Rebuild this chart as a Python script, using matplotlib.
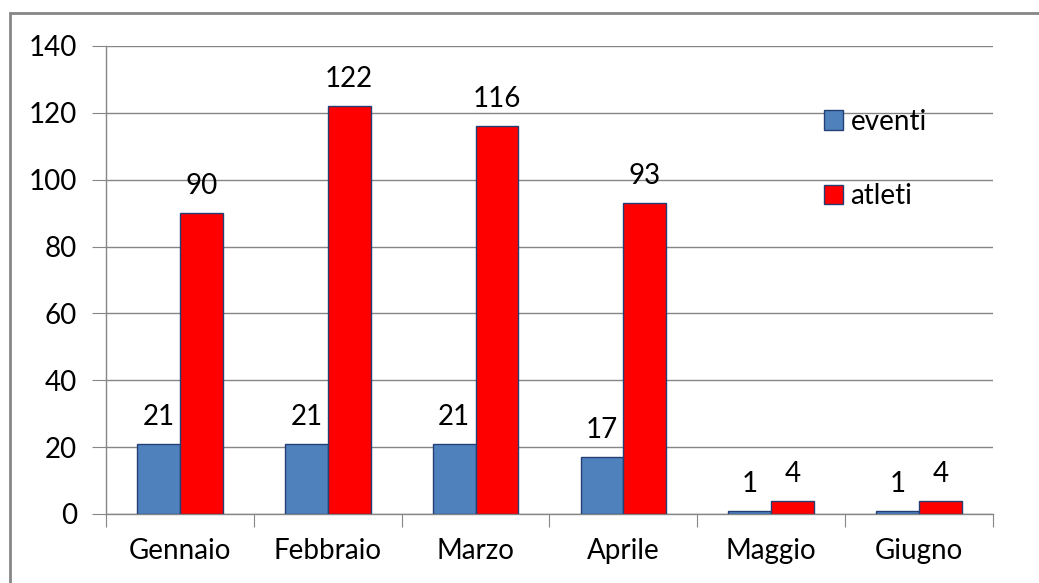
import matplotlib.pyplot as plt
import numpy as np
from matplotlib.patches import Rectangle

plt.rcParams['font.family'] = ['Lato', 'DejaVu Sans']

# Data
mesi = ["Gennaio", "Febbraio", "Marzo", "Aprile", "Maggio", "Giugno"]
eventi = [21, 21, 21, 17, 1, 1]
atleti = [90, 122, 116, 93, 4, 4]

FS = 20

fig = plt.figure(figsize=(10.39, 5.83), dpi=100)
ax = fig.add_axes([106 / 1039, 1 - 514 / 583, 887 / 1039, 468 / 583])

# outer chart border (Excel style)
fig.patches.append(Rectangle((10 / 1039, -0.1), 1.2, 1 - 13 / 583 + 0.1,
                             transform=fig.transFigure, fill=False,
                             edgecolor='#868686', linewidth=2))

x = np.arange(len(mesi))
width = 0.29
b1 = ax.bar(x - width / 2, eventi, width, color='#4F81BD',
            edgecolor='#243F73', linewidth=1, label='eventi', zorder=3)
b2 = ax.bar(x + width / 2, atleti, width, color='#FF0000',
            edgecolor='#243F73', linewidth=1, label='atleti', zorder=3)

for bars, vals in [(b1, eventi), (b2, atleti)]:
    for rect, v in zip(bars, vals):
        ax.annotate(str(v), (rect.get_x() + rect.get_width() / 2, v),
                    xytext=(0, 10), textcoords='offset points',
                    ha='center', va='bottom', fontsize=FS)

ax.set_xlim(-0.5, len(mesi) - 0.5)
ax.set_ylim(0, 140)
ax.set_yticks(np.arange(0, 141, 20))
ax.set_xticks(np.arange(-0.5, len(mesi), 1.0))
ax.set_xticklabels([])
ax.set_xticks(x, minor=True)
ax.set_xticklabels(mesi, minor=True)
ax.tick_params(axis='x', which='minor', length=0, pad=17, labelsize=FS)
ax.tick_params(axis='x', which='major', length=9, color='#868686', direction='out')
ax.tick_params(axis='y', length=10, color='#868686', pad=11, labelsize=FS)

ax.grid(axis='y', color='#868686', linewidth=1, zorder=0)
for s in ['top', 'right']:
    ax.spines[s].set_visible(False)
for s in ['left', 'bottom']:
    ax.spines[s].set_color('#868686')
    ax.spines[s].set_linewidth(1)

fig.legend(handles=[b1, b2], labels=['eventi', 'atleti'],
           loc='center left', bbox_to_anchor=(824 / 1039, 1 - 159 / 583),
           frameon=False, fontsize=FS, handlelength=0.7, handleheight=0.7,
           handletextpad=0.25, labelspacing=1.75, borderpad=0, borderaxespad=0)

fig.savefig('out.png', dpi=100)
